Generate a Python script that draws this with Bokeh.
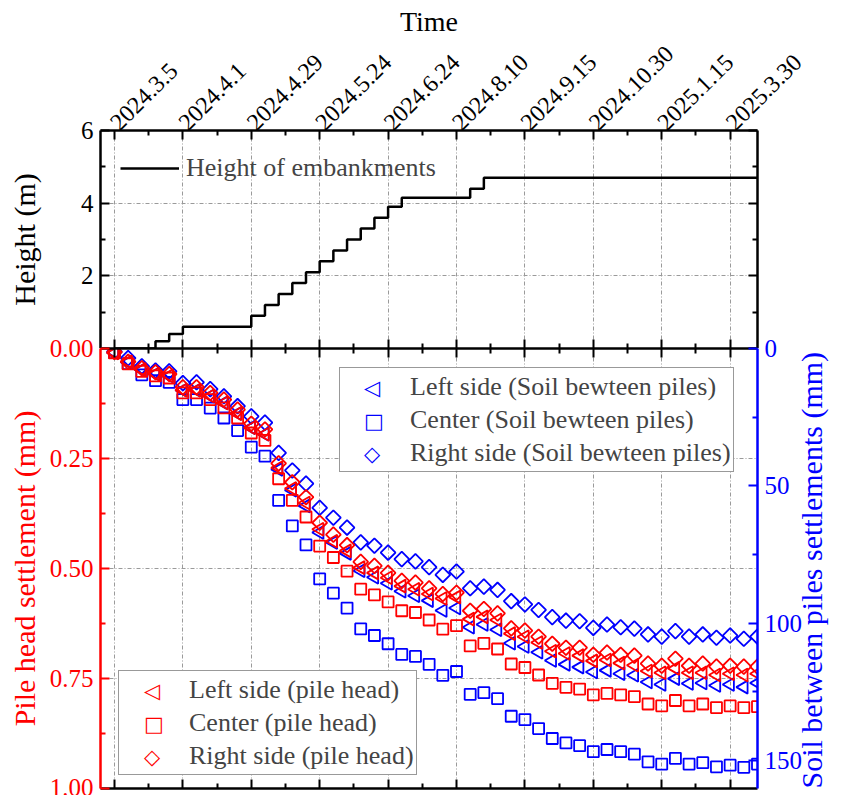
from math import pi
from bokeh.plotting import figure
from bokeh.layouts import column
from bokeh.models import (Range1d, LinearAxis, FixedTicker, Legend, LegendItem,
                          NumeralTickFormatter)
from bokeh.embed import file_html
from bokeh.resources import INLINE

# ---------------- data ----------------
dates = ["2024.3.5", "2024.4.1", "2024.4.29", "2024.5.24", "2024.6.24",
         "2024.8.10", "2024.9.15", "2024.10.30", "2025.1.15", "2025.3.30"]
obs = list(range(48))  # observation number

height = [0, 0, 0, 0.2, 0.4, 0.6, 0.6, 0.6, 0.6, 0.6,
          0.9, 1.2, 1.5, 1.8, 2.1, 2.4, 2.7, 3.0, 3.3, 3.6,
          3.9, 4.15, 4.15, 4.15, 4.15, 4.15, 4.4, 4.7, 4.7, 4.7,
          4.7, 4.7, 4.7, 4.7, 4.7, 4.7, 4.7, 4.7, 4.7, 4.7,
          4.7, 4.7, 4.7, 4.7, 4.7, 4.7, 4.7, 4.7]

pile_left = [0.010, 0.030, 0.048, 0.058, 0.062, 0.095, 0.095, 0.108, 0.124, 0.148,
             0.180, 0.195, 0.271, 0.318, 0.351, 0.411, 0.438, 0.460, 0.498, 0.510,
             0.521, 0.540, 0.547, 0.558, 0.568, 0.565, 0.615, 0.610, 0.617, 0.648,
             0.655, 0.668, 0.688, 0.693, 0.698, 0.710, 0.708, 0.715, 0.720, 0.733,
             0.737, 0.727, 0.737, 0.737, 0.742, 0.739, 0.742, 0.739]
pile_center = [0.010, 0.035, 0.052, 0.062, 0.067, 0.101, 0.101, 0.116, 0.135, 0.158,
               0.192, 0.209, 0.296, 0.345, 0.383, 0.449, 0.475, 0.506, 0.547, 0.560,
               0.576, 0.596, 0.600, 0.617, 0.638, 0.630, 0.676, 0.670, 0.683, 0.717,
               0.725, 0.742, 0.761, 0.770, 0.774, 0.787, 0.784, 0.787, 0.791, 0.808,
               0.812, 0.800, 0.812, 0.808, 0.816, 0.812, 0.816, 0.814]
pile_right = [0.008, 0.030, 0.045, 0.054, 0.058, 0.088, 0.088, 0.101, 0.116, 0.139,
              0.171, 0.184, 0.261, 0.304, 0.338, 0.396, 0.423, 0.447, 0.485, 0.494,
              0.510, 0.528, 0.532, 0.545, 0.558, 0.555, 0.596, 0.592, 0.602, 0.636,
              0.641, 0.655, 0.671, 0.680, 0.680, 0.696, 0.691, 0.696, 0.698, 0.716,
              0.721, 0.705, 0.721, 0.716, 0.723, 0.721, 0.723, 0.723]

soil_left = [1.5, 5.0, 7.7, 9.3, 10.0, 15.2, 15.2, 17.3, 19.8, 23.7,
             28.8, 31.2, 44.0, 51.6, 57.3, 67.0, 70.6, 74.6, 80.9, 83.3,
             85.5, 88.4, 90.0, 91.8, 95.4, 94.5, 101.5, 100.5, 102.4, 107.3,
             108.5, 110.6, 113.6, 115.0, 116.0, 117.8, 117.2, 118.4, 119.0, 121.4,
             122.3, 120.2, 122.0, 121.8, 122.7, 122.3, 123.3, 121.8]
soil_center = [1.5, 5.5, 9.6, 11.7, 12.3, 18.6, 18.6, 21.7, 25.3, 29.9,
               35.9, 39.2, 55.3, 64.6, 71.5, 83.9, 89.1, 94.5, 102.1, 104.5,
               107.5, 111.4, 112.1, 115.0, 119.0, 117.6, 125.9, 125.3, 127.5, 133.9,
               135.1, 138.4, 142.0, 143.6, 144.6, 146.8, 146.0, 146.8, 147.7, 150.5,
               151.3, 149.2, 151.3, 150.8, 152.3, 151.7, 152.5, 151.3]
soil_right = [1.1, 3.5, 6.5, 8.0, 8.3, 12.6, 12.3, 14.8, 17.4, 21.0,
              24.7, 27.0, 38.0, 44.4, 49.2, 58.0, 61.6, 65.2, 70.6, 71.8,
              74.3, 76.7, 77.5, 79.6, 82.4, 81.2, 87.3, 86.7, 87.9, 92.0,
              93.2, 95.2, 97.8, 99.1, 99.3, 101.7, 100.5, 101.5, 102.0, 104.1,
              104.9, 102.9, 104.9, 104.1, 105.3, 104.5, 105.7, 104.9]

height_ticks = [0, 2, 4, 6]
height_minor = [1, 3, 5]
pile_ticks = [0.0, 0.25, 0.5, 0.75, 1.0]
soil_ticks = [0, 50, 100, 150]

series_labels_soil = ["Left side (Soil bewteen piles)", "Center (Soil bewteen piles)",
                      "Right side (Soil bewteen piles)"]
series_labels_pile = ["Left side (pile head)", "Center (pile head)", "Right side (pile head)"]
symbols = ["\u25c1", "\u25a1", "\u25c7"]   # legend symbols: left triangle, square, diamond

# ---------------- style ----------------
FONT = "Liberation Serif"
RED = "#ff0000"
BLUE = "#0000ff"
GRID = "#9a9a9a"

x_ticks = [5 * i for i in range(len(dates))]
x_minor = [5 * i + 2.5 for i in range(len(dates) - 1)]


def style_axis(ax, color="black", labels=True, tin=9, tout=0):
    ax.axis_line_color = color
    ax.axis_line_width = 2.5
    ax.major_tick_line_color = color
    ax.minor_tick_line_color = color
    ax.major_tick_line_width = 2
    ax.minor_tick_line_width = 2
    ax.major_tick_in = tin
    ax.major_tick_out = tout
    ax.minor_tick_in = 5
    ax.minor_tick_out = 5 if tout else 0
    ax.major_label_text_font = FONT
    ax.axis_label_text_font = FONT
    ax.axis_label_text_font_size = "30px"
    ax.axis_label_text_font_style = "normal"
    ax.axis_label_text_color = color
    if labels:
        ax.major_label_text_color = color
        ax.major_label_text_font_size = "25px"
        ax.major_label_standoff = 7
    else:
        ax.major_label_text_color = None
        ax.major_label_text_font_size = "1px"
        ax.major_label_standoff = 0


def style_grid(g):
    g.grid_line_color = GRID
    g.grid_line_width = 1
    g.grid_line_dash = "4 2 1 2"


X0, X1 = -1.02, 47.0

# ---------------- top panel ----------------
p1 = figure(width=847, height=348, x_range=Range1d(X0, X1), y_range=Range1d(0, 6),
            x_axis_location="above", y_axis_location="left",
            output_backend="svg", toolbar_location=None,
            min_border_left=100, min_border_right=89, min_border_top=130,
            min_border_bottom=0)
p1.outline_line_color = None

xa = p1.xaxis[0]
xa.ticker = FixedTicker(ticks=x_ticks, minor_ticks=x_minor)
xa.major_label_overrides = {t: d for t, d in zip(x_ticks, dates)}
style_axis(xa)
xa.major_label_text_font_size = "24px"
xa.major_label_orientation = pi / 4
xa.major_label_standoff = 4
xa.axis_label = "Time"
xa.axis_label_text_font_size = "28px"
xa.axis_label_standoff = 0

ya = p1.yaxis[0]
ya.ticker = FixedTicker(ticks=height_ticks, minor_ticks=height_minor)
ya.major_label_overrides = {0: ""}
style_axis(ya)
ya.axis_label = "Height (m)"
ya.axis_label_standoff = 37

yr1 = LinearAxis(ticker=FixedTicker(ticks=height_ticks, minor_ticks=height_minor))
style_axis(yr1, labels=False)
p1.add_layout(yr1, "right")

p1.xgrid.ticker = FixedTicker(ticks=x_ticks)
p1.ygrid.ticker = FixedTicker(ticks=[2, 4])
style_grid(p1.xgrid[0])
style_grid(p1.ygrid[0])

step_r = p1.step(obs, height, mode="after", line_color="black", line_width=2.5)

leg1 = Legend(items=[LegendItem(label="Height of embankments", renderers=[step_r])],
              location=(20, 165), margin=0, padding=0, spacing=0,
              glyph_width=59, glyph_height=30, label_standoff=7,
              border_line_color=None, background_fill_alpha=0,
              label_text_font=FONT, label_text_font_size="26px")
p1.add_layout(leg1)

# ---------------- bottom panel ----------------
p2 = figure(width=847, height=463, x_range=p1.x_range, y_range=Range1d(1.0, 0.0),
            x_axis_location="below", y_axis_location="left",
            output_backend="svg", toolbar_location=None,
            min_border_left=100, min_border_right=89, min_border_top=16,
            min_border_bottom=7, border_fill_color=None)
p2.outline_line_color = None
p2.margin = (-16, 0, 0, 0)
p2.extra_y_ranges = {"soil": Range1d(160.2, 0.0)}

bx = p2.xaxis[0]
bx.ticker = FixedTicker(ticks=x_ticks, minor_ticks=x_minor)
style_axis(bx, labels=False)

tx = LinearAxis(ticker=FixedTicker(ticks=x_ticks, minor_ticks=x_minor))
style_axis(tx, labels=False, tin=9, tout=9)
p2.add_layout(tx, "above")

ly = p2.yaxis[0]
ly.ticker = FixedTicker(ticks=pile_ticks, minor_ticks=[0.125, 0.375, 0.625, 0.875])
ly.formatter = NumeralTickFormatter(format="0.00")
style_axis(ly, color=RED)
ly.axis_label = "Pile head settlement (mm)"
ly.axis_label_standoff = 6

ry = LinearAxis(y_range_name="soil",
                ticker=FixedTicker(ticks=soil_ticks, minor_ticks=[25, 75, 125]),
                axis_label="Soil between piles settlements (mm)")
style_axis(ry, color=BLUE)
ry.axis_label_standoff = 6
ry.axis_label_orientation = pi / 2
if "axis_label_align" in ry.properties():
    ry.axis_label_align = "end"
p2.add_layout(ry, "right")

p2.xgrid.ticker = FixedTicker(ticks=x_ticks)
p2.ygrid.ticker = FixedTicker(ticks=[0.25, 0.5, 0.75])
style_grid(p2.xgrid[0])
style_grid(p2.ygrid[0])

MS = dict(fill_color=None, line_width=1.8)
b_tri = p2.scatter(obs, soil_left, y_range_name="soil", marker="triangle", angle=pi / 2,
                   size=13, line_color=BLUE, **MS)
b_sq = p2.scatter(obs, soil_center, y_range_name="soil", marker="square",
                  size=11, line_color=BLUE, **MS)
b_dia = p2.scatter(obs, soil_right, y_range_name="soil", marker="square", angle=pi / 4,
                   size=10.5, line_color=BLUE, **MS)
r_tri = p2.scatter(obs, pile_left, marker="triangle", angle=pi / 2,
                   size=13, line_color=RED, **MS)
r_sq = p2.scatter(obs, pile_center, marker="square", size=11, line_color=RED, **MS)
r_dia = p2.scatter(obs, pile_right, marker="square", angle=pi / 4, size=10.5,
                   line_color=RED, **MS)

# invisible placeholder glyph for the legend boxes (rotated markers are drawn as symbols)
ghost = p2.scatter(x=[], y=[], marker="square", size=1, line_alpha=0, fill_alpha=0)

leg_kw = dict(margin=0, padding=2, spacing=0, glyph_width=64, glyph_height=33,
              label_standoff=4, border_line_color="#333333", border_line_width=1,
              background_fill_color="white", background_fill_alpha=1,
              label_text_font=FONT, label_text_font_size="26px")
sym_kw = dict(margin=0, padding=0, spacing=0, glyph_width=0, glyph_height=33,
              label_standoff=0, border_line_color=None, background_fill_alpha=0,
              label_text_font="DejaVu Sans", label_text_font_size="21px",
              label_text_font_style="bold")

leg_blue = Legend(items=[LegendItem(label=t, renderers=[ghost]) for t in series_labels_soil],
                  location=(239, 316), **leg_kw)
sym_blue = Legend(items=[LegendItem(label=s, renderers=[r])
                         for s, r in zip(symbols, [b_tri, b_sq, b_dia])],
                  location=(264, 318), label_text_color=BLUE, **sym_kw)
leg_red = Legend(items=[LegendItem(label=t, renderers=[ghost]) for t in series_labels_pile],
                 location=(18, 13), **leg_kw)
sym_red = Legend(items=[LegendItem(label=s, renderers=[r])
                        for s, r in zip(symbols, [r_tri, r_sq, r_dia])],
                 location=(44, 15), label_text_color=RED, **sym_kw)
p2.add_layout(leg_blue)
p2.add_layout(sym_blue)
p2.add_layout(leg_red)
p2.add_layout(sym_red)

layout = column(p1, p2, spacing=0)
open("out.html", "w").write(file_html(layout, INLINE))
